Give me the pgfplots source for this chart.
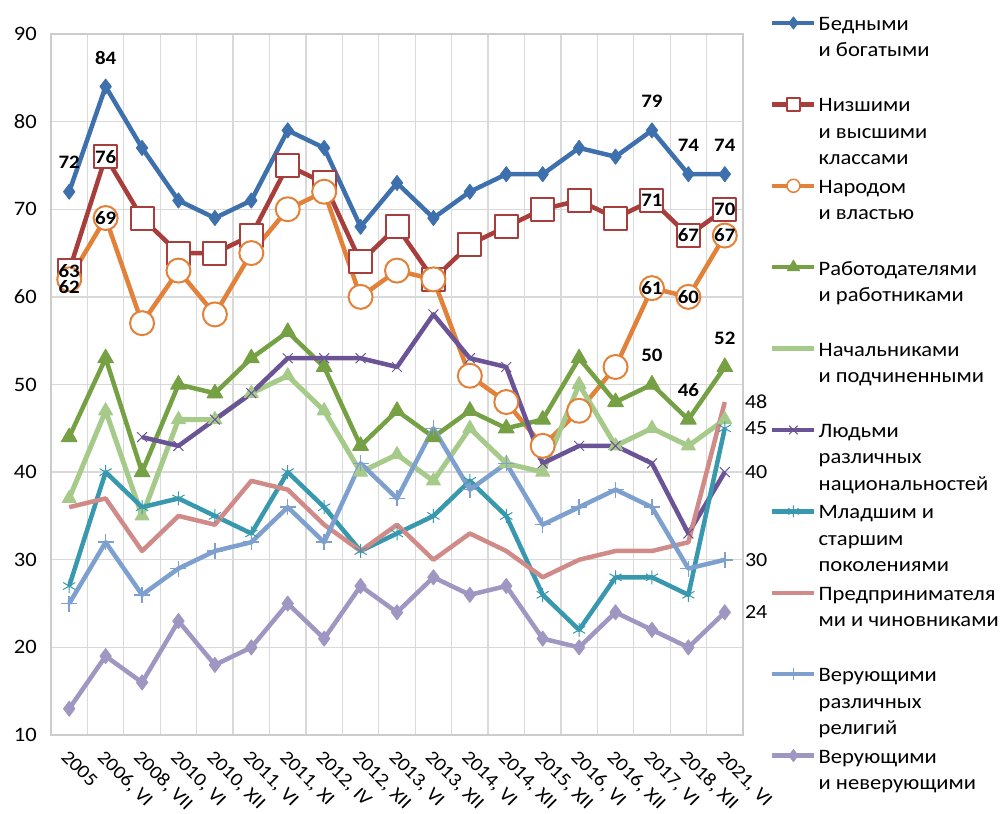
\documentclass[border=0pt]{standalone}
\usepackage{fontspec}
\setmainfont{Carlito}[FakeStretch=1.1]
\usepackage{pgfplots}
\usepackage{pgfplotstable}
\pgfplotsset{compat=1.18}

\definecolor{cBlue}{RGB}{62,112,174}
\definecolor{cRed}{RGB}{168,62,60}
\definecolor{cOrange}{RGB}{226,130,58}
\definecolor{cGreen}{RGB}{118,160,68}
\definecolor{cLGreen}{RGB}{166,202,138}
\definecolor{cPurple}{RGB}{106,84,150}
\definecolor{cTeal}{RGB}{56,152,174}
\definecolor{cPink}{RGB}{208,138,136}
\definecolor{cLBlue}{RGB}{126,160,207}
\definecolor{cLilac}{RGB}{160,150,194}

\pgfplotstableread{
x b r o g lg p t pk lb li
0 72 63 62 44 37 nan 27 36 25 13
1 84 76 69 53 47 nan 40 37 32 19
2 77 69 57 40 35 44 36 31 26 16
3 71 65 63 50 46 43 37 35 29 23
4 69 65 58 49 46 46 35 34 31 18
5 71 67 65 53 49 49 33 39 32 20
6 79 75 70 56 51 53 40 38 36 25
7 77 73 72 52 47 53 36 34 32 21
8 68 64 60 43 40 53 31 31 41 27
9 73 68 63 47 42 52 33 34 37 24
10 69 62 62 44 39 58 35 30 45 28
11 72 66 51 47 45 53 39 33 38 26
12 74 68 48 45 41 52 35 31 41 27
13 74 70 43 46 40 41 26 28 34 21
14 77 71 47 53 50 43 22 30 36 20
15 76 69 52 48 43 43 28 31 38 24
16 79 71 61 50 45 41 28 31 36 22
17 74 67 60 46 43 33 26 32 29 20
18 74 70 67 52 46 40 45 48 30 24
}\datatable

\newcommand{\lentry}[1]{\begin{minipage}[b][75.9pt][t]{190pt}\raggedright\fontsize{20.5}{26.5}\selectfont #1\end{minipage}}

\begin{document}
\begin{tikzpicture}
\begin{axis}[
  at={(51pt,-735pt)}, anchor=south west,
  scale only axis, width=692pt, height=701pt,
  xmin=-0.5, xmax=18.5, ymin=10, ymax=90,
  ytick={10,20,...,90},
  xtick={0,...,18},
  xticklabels={2005,{2006, VI},{2008, VII},{2010, VI},{2010, XII},{2011, VI},{2011, XI},{2012, IV},{2012, XII},{2013, VI},{2013, XII},{2014, VI},{2014, XII},{2015, XII},{2016, VI},{2016, XII},{2017, VI},{2018, XII},{2021, VI}},
  minor xtick={-0.5,0.5,...,18.5},
  xminorgrids, ymajorgrids,
  grid style={line width=1.3pt, color=black!15},
  minor grid style={line width=1.3pt, color=black!15},
  axis line style={line width=1.3pt, color=black!20},
  major tick length=0pt, minor tick length=0pt,
  tick label style={font=\fontsize{20.5}{24}\selectfont},
  xticklabel style={font=\fontsize{19}{24}\selectfont},
  /pgf/number format/assume math mode=true,
  yticklabel style={inner sep=0pt, xshift=-14pt},
  xticklabel style={yshift=-14pt, rotate=-45, anchor=north west, inner sep=0pt},
  clip=false,
  legend cell align=left,
  legend style={draw=none, fill=none, at={(1.039,1.027)}, anchor=north west, inner sep=0pt, row sep=0pt, column sep=0pt},
  legend image code/.code={\draw[mark repeat=2,mark phase=2,#1] plot coordinates {(0pt,33pt) (21pt,33pt) (42pt,33pt)};},
  every axis plot/.append style={line width=4.5pt, line join=round},
]
% series
\addplot[forget plot, cBlue, mark=diamond*, mark size=7.5pt, mark options={fill=cBlue, line width=1pt}] table[x=x,y=b] {\datatable};
\addplot[forget plot, cRed, mark=square*, mark size=11.5pt, mark options={fill=white, draw=cRed, line width=2pt}] table[x=x,y=r] {\datatable};
\addplot[forget plot, cOrange, mark=*, mark size=12pt, mark options={fill=white, draw=cOrange, line width=2pt}] table[x=x,y=o] {\datatable};
\addplot[forget plot, cGreen, mark=triangle*, mark size=9pt, mark options={fill=cGreen, line width=1pt}] table[x=x,y=g] {\datatable};
\addplot[forget plot, cLGreen, line width=5pt, mark=triangle*, mark size=8pt, mark options={fill=cLGreen, line width=1pt}] table[x=x,y=lg] {\datatable};
\addplot[forget plot, cPurple, mark=x, mark size=7pt, mark options={line width=1pt}] table[x=x,y=p] {\datatable};
\addplot[forget plot, cTeal, mark=asterisk, mark size=7pt, mark options={line width=1pt}] table[x=x,y=t] {\datatable};
\addplot[forget plot, cPink, mark=none] table[x=x,y=pk] {\datatable};
\addplot[forget plot, cLBlue, mark=+, mark size=8pt, mark options={line width=1.5pt}] table[x=x,y=lb] {\datatable};
\addplot[forget plot, cLilac, mark=diamond*, mark size=7.5pt, mark options={fill=cLilac, line width=1pt}] table[x=x,y=li] {\datatable};

% data labels
\addplot[forget plot, draw=none, mark=none, nodes near coords, point meta=y,
  nodes near coords style={font=\fontsize{19}{24}\selectfont\bfseries, anchor=center, yshift=29pt, inner sep=0pt, text=black}]
  coordinates {(0,72) (1,84) (16,79) (17,74) (18,74) (16,50) (17,46) (18,52)};
\addplot[forget plot, draw=none, mark=none, nodes near coords, point meta=y,
  nodes near coords style={font=\fontsize{19}{24}\selectfont\bfseries, anchor=center, inner sep=0pt, text=black}]
  coordinates {(0,63) (1,76) (16,71) (17,67) (18,70) (1,69) (16,61) (17,60) (18,67)};
\addplot[forget plot, draw=none, mark=none, nodes near coords, point meta=y,
  nodes near coords style={font=\fontsize{19}{24}\selectfont\bfseries, anchor=center, yshift=-8pt, inner sep=0pt, text=black}]
  coordinates {(0,62)};
\addplot[forget plot, draw=none, mark=none, nodes near coords, point meta=y,
  nodes near coords style={font=\fontsize{20}{24}\selectfont, anchor=west, xshift=18pt, inner sep=0pt, text=black}]
  coordinates {(18,48) (18,45) (18,40) (18,30) (18,24)};

% legend
\addlegendimage{cBlue, line width=4.5pt, mark=diamond*, mark size=6pt, mark options={fill=cBlue, line width=1pt}}
\addlegendentry{\lentry{Бедными\\и богатыми}}
\addlegendimage{cRed, line width=4.5pt, mark=square*, mark size=6.5pt, mark options={fill=white, draw=cRed, line width=1.5pt}}
\addlegendentry{\lentry{Низшими\\и высшими\\классами}}
\addlegendimage{cOrange, line width=4.5pt, mark=*, mark size=6.5pt, mark options={fill=white, draw=cOrange, line width=1.5pt}}
\addlegendentry{\lentry{Народом\\и властью}}
\addlegendimage{cGreen, line width=4.5pt, mark=triangle*, mark size=7pt, mark options={fill=cGreen, line width=1pt}}
\addlegendentry{\lentry{Работодателями\\и работниками}}
\addlegendimage{cLGreen, line width=4.5pt, mark=none}
\addlegendentry{\lentry{Начальниками\\и подчиненными}}
\addlegendimage{cPurple, line width=4.5pt, mark=x, mark size=6pt, mark options={line width=1pt}}
\addlegendentry{\lentry{Людьми\\различных\\национальностей}}
\addlegendimage{cTeal, line width=4.5pt, mark=asterisk, mark size=6pt, mark options={line width=1pt}}
\addlegendentry{\lentry{Младшим и\\старшим\\поколениями}}
\addlegendimage{cPink, line width=4.5pt, mark=none}
\addlegendentry{\lentry{Предпринимателя\\ми и чиновниками}}
\addlegendimage{cLBlue, line width=4.5pt, mark=+, mark size=6pt, mark options={line width=1.2pt}}
\addlegendentry{\lentry{Верующими\\различных\\религий}}
\addlegendimage{cLilac, line width=4.5pt, mark=diamond*, mark size=6pt, mark options={fill=cLilac, line width=1pt}}
\addlegendentry{\lentry{Верующими\\и неверующими}}
\end{axis}
\pgfresetboundingbox
\path (0,0) rectangle (1008pt,-813pt);
\end{tikzpicture}
\end{document}
